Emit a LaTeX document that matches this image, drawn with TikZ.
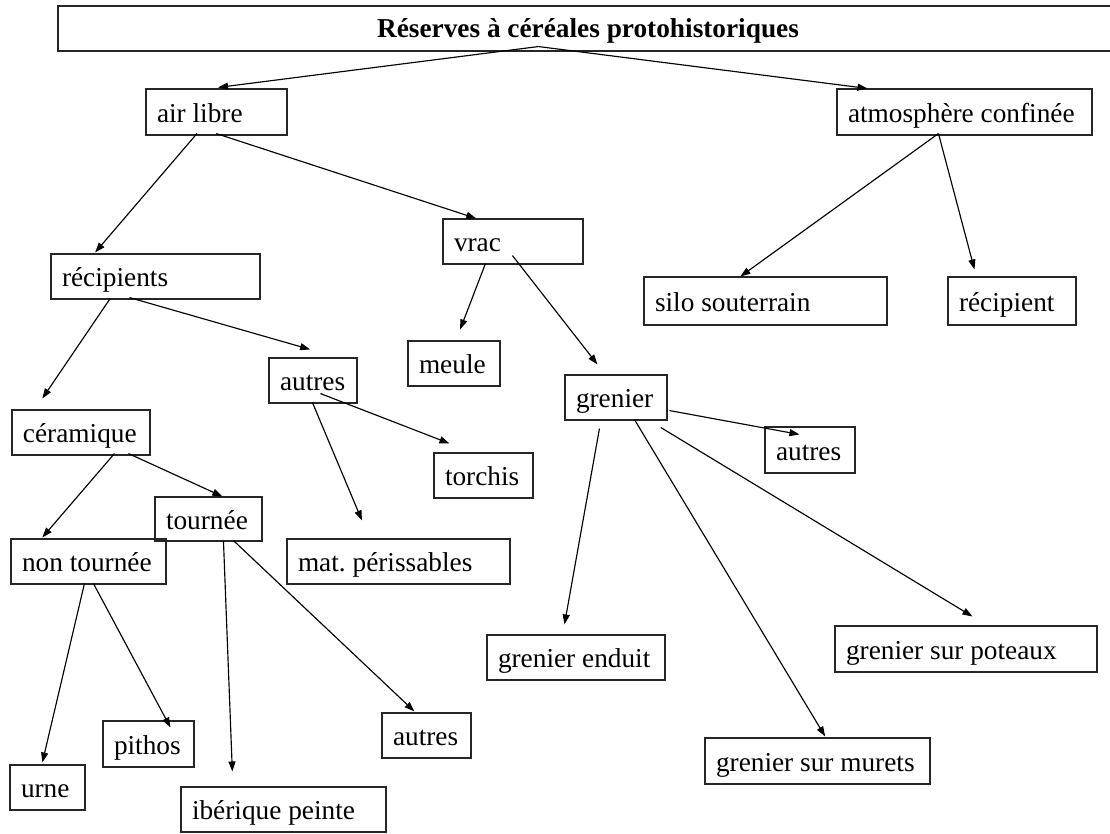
\documentclass[tikz,border=0pt]{standalone}
\usepackage{fontspec}
\setmainfont{Liberation Serif}
\usetikzlibrary{arrows.meta}
\frenchspacing
\tikzset{
  bx/.style={draw=black!85, line width=1.1pt, rectangle, inner xsep=11pt, inner ysep=0pt,
    text height=21.8pt, text depth=1.4pt,
    font=\fontsize{27.3}{31}\selectfont},
  ttl/.style={bx, text depth=4.5pt, font=\fontsize{27.3}{31}\selectfont\bfseries},
  arr/.style={draw=black, line width=1.15pt, -{Triangle[length=10pt,width=7pt]}}
}
\newcommand\bx[7][bx]{%
  \pgfmathsetmacro\mybw{#5-#3}\pgfmathsetmacro\mybh{#6-#4}%
  \pgfmathsetmacro\mycx{(#3+#5)/2}\pgfmathsetmacro\mycy{(#4+#6)/2}%
  \pgfmathsetmacro\mybt{#5-#3-22}%
  \node[#1, minimum width=\mybw pt, minimum height=\mybh pt] (#2) at (\mycx,\mycy) {\makebox[\mybt pt][l]{#7}};}
\newcommand\bxc[6]{%
  \pgfmathsetmacro\mybw{#4-#2}\pgfmathsetmacro\mybh{#5-#3}%
  \pgfmathsetmacro\mycx{(#2+#4)/2}\pgfmathsetmacro\mycy{(#3+#5)/2}%
  \node[ttl, minimum width=\mybw pt, minimum height=\mybh pt] (#1) at (\mycx,\mycy) {#6};}
\newcommand\cn[6]{% src, dx, up, tgt, dx, up
  \draw[arr] ([xshift=#2pt,yshift=#3pt]#1.south west) -- ([xshift=#5pt,yshift=#6pt]#4.north west);}
\begin{document}
\begin{tikzpicture}[x=1pt,y=-1pt]
\useasboundingbox (0,0) rectangle (1110,833);
\bxc{title}{58}{6}{1118}{51}{Réserves à céréales protohistoriques}
\bx{airlibre}{146}{89}{287}{135}{air libre}
\bx{atmos}{837}{89}{1092}{135}{atmosphère confinée}
\bx{vrac}{443}{219}{583}{264}{vrac}
\bx{recipients}{51}{254}{260}{299}{récipients}
\bx{silo}{644}{277}{887}{325}{silo souterrain}
\bx{recipient}{948}{277}{1076}{325}{récipient}
\bx{meule}{408}{341}{500}{386}{meule}
\bx{autresA}{269}{358}{357}{403}{autres}
\bx{grenier}{565}{375}{667}{420}{grenier}
\bx{ceramique}{12}{410}{150}{455}{céramique}
\bx{autresB}{765}{427}{855}{473}{autres}
\bx{torchis}{434}{453}{533}{498}{torchis}
\bx{tournee}{155}{497}{262}{541}{tournée}
\bx{nontournee}{11}{539}{166}{584}{non tournée}
\bx{mat}{287}{539}{510}{584}{mat. périssables}
\bx{enduit}{487}{635}{665}{680}{grenier enduit}
\bx{poteaux}{835}{626}{1097}{672}{grenier sur poteaux}
\bx{autresC}{382}{713}{471}{758}{autres}
\bx{pithos}{103}{721}{194}{767}{pithos}
\bx{murets}{705}{738}{930}{784}{grenier sur murets}
\bx{urne}{10}{765}{85}{810}{urne}
\bx{iberique}{181}{787}{386}{832}{ibérique peinte}
\cn{title}{481}{5}{airlibre}{72.6}{1}
\cn{title}{481}{5}{atmos}{31}{0}
\cn{airlibre}{51.5}{2}{recipients}{44.7}{1}
\cn{airlibre}{70.8}{2}{vrac}{33.8}{0}
\cn{atmos}{102}{2}{silo}{97}{0}
\cn{atmos}{102}{2}{recipient}{27}{7}
\cn{vrac}{43}{1}{meule}{52.7}{11}
\cn{vrac}{70}{9}{grenier}{33}{10}
\cn{recipients}{59.7}{1}{ceramique}{30.9}{11}
\cn{recipients}{79}{2}{autresA}{41.7}{8}
\cn{autresA}{52}{10}{torchis}{16}{9}
\cn{autresA}{44}{1}{mat}{75.5}{18}
\cn{ceramique}{103}{2}{nontournee}{31.9}{1}
\cn{ceramique}{117}{2}{tournee}{68}{0}
\cn{tournee}{69}{1}{iberique}{51.9}{15}
\cn{tournee}{79}{1}{autresC}{33}{1}
\cn{nontournee}{74}{1}{urne}{32.9}{2}
\cn{nontournee}{83}{1}{pithos}{68}{-7}
\cn{grenier}{105}{10}{autresB}{35}{-8}
\cn{grenier}{35}{-8}{enduit}{78}{10}
\cn{grenier}{70}{1}{murets}{120.7}{1}
\cn{grenier}{96.4}{-7}{poteaux}{138}{9}
\end{tikzpicture}
\end{document}
